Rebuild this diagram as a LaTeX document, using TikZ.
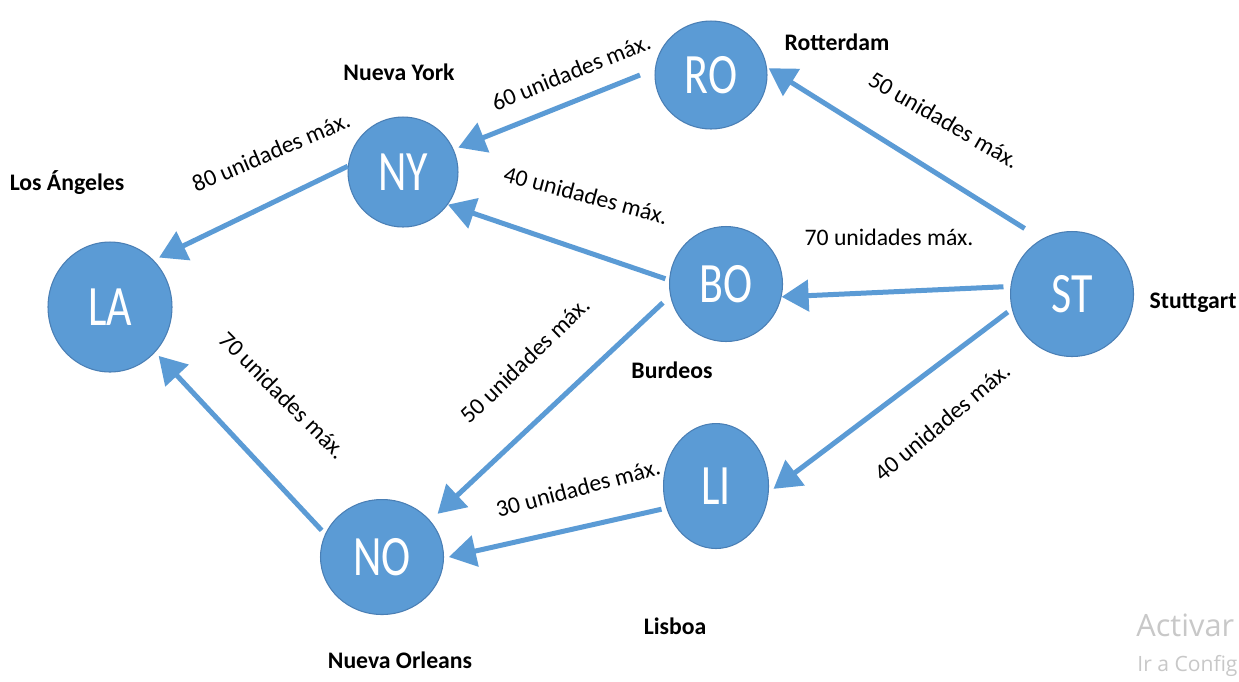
\documentclass[tikz,border=0pt]{standalone}
\usepackage{fontspec}
\usepackage{graphicx}
\setmainfont{Carlito}
\newfontfamily\wmfont{Open Sans}
\usetikzlibrary{arrows.meta,shapes.geometric}
\definecolor{nodeblue}{HTML}{5B9BD5}
\definecolor{nodeedge}{HTML}{4A7FB5}
\definecolor{wmgray}{HTML}{C8C8C8}
% node letters are set a little taller than wide
\newcommand\tallcode[1]{\scalebox{1}[1.3]{#1}}

\begin{document}
\begin{tikzpicture}[x=0.02cm,y=-0.02cm,
  city/.style={ellipse, fill=nodeblue, draw=nodeedge, line width=0.6pt,
    inner sep=0pt, text=white, font=\fontsize{25}{25}\selectfont},
  route/.style={draw=nodeblue, line width=0.1cm,
    -{Triangle[length=0.54cm,width=0.62cm]}},
  capnote/.style={font=\fontsize{13.5}{14}\selectfont, inner sep=0pt},
  place/.style={font=\bfseries\fontsize{13.5}{14}\selectfont, inner sep=0pt},
  wm/.style={text=wmgray, anchor=west, inner sep=0pt},
]
\clip (0,0) rectangle (1239,681);
\fill[white] (0,0) rectangle (1239,681);

% cities
\node[city, minimum width=2.48cm, minimum height=2.6cm] (la) at (110,307) {\tallcode{LA}};
\node[city, minimum width=2.2cm,  minimum height=2.2cm] (ny) at (403,172) {\tallcode{NY}};
\node[city, minimum width=2.24cm, minimum height=2.16cm] (ro) at (711,75) {\tallcode{RO}};
\node[city, minimum width=2.26cm, minimum height=2.3cm] (bo) at (726,284) {\tallcode{BO}};
\node[city, minimum width=2.46cm, minimum height=2.5cm] (st) at (1072,294) {\tallcode{ST}};
\node[city, minimum width=2.46cm, minimum height=2.3cm] (no) at (382,557) {\tallcode{NO}};
\node[city, minimum width=2.1cm,  minimum height=2.5cm] (li) at (716,486) {\tallcode{LI}};

% routes
\draw[route, shorten <=0.32cm, shorten >=0.1cm]  (ro.174) -- (ny.24);
\draw[route, shorten >=0.12cm]                   (ny.174) -- (la.47);
\draw[route, shorten <=0.08cm]                   (bo.176) -- (ny.-36);
\draw[route, shorten <=0.4cm, shorten >=0.04cm]  (st.119) -- (ro.8);
\draw[route, shorten <=0.14cm]                   (st.173) -- (bo.-13);
\draw[route, shorten <=0.2cm, shorten >=0.2cm]   (bo.192) -- (no.37);
\draw[route, shorten <=0.1cm, shorten >=0.12cm]  (st.194) -- (li.-7);
\draw[route, shorten <=0.1cm, shorten >=0.1cm]   (li.204) -- (no.-1);
\draw[route, shorten <=0.1cm, shorten >=0.1cm]   (no.158) -- (la.-45);

% capacities
\node[capnote, rotate=22]  (c1) at (571,72)  {60 unidades máx.};
\node[capnote, rotate=23]  (c2) at (271,152) {80 unidades máx.};
\node[capnote, rotate=-15] (c3) at (586,195) {40 unidades máx.};
\node[capnote, rotate=-30] (c4) at (944,120) {50 unidades máx.};
\node[capnote]             (c5) at (889,237) {70 unidades máx.};
\node[capnote, rotate=44]  (c6) at (525,360) {50 unidades máx.};
\node[capnote, rotate=40]  (c7) at (942,422) {40 unidades máx.};
\node[capnote, rotate=15]  (c8) at (578,488) {30 unidades máx.};
\node[capnote, rotate=-45] (c9) at (283,395) {70 unidades máx.};

% city names
\node[place] (nro) at (837,42)  {Rotterdam};
\node[place] (nny) at (399,72)  {Nueva York};
\node[place] (nla) at (67,183)  {Los Ángeles};
\node[place] (nbo) at (672,370) {Burdeos};
\node[place] (nst) at (1193,303) {Stuttgart};
\node[place] (nli) at (675,626) {Lisboa};
\node[place] (nno) at (400,660) {Nueva Orleans};

% activation notice in the corner
\node[wm, font=\wmfont\fontsize{17.5}{18}\selectfont] (wm1) at (1136,625) {Activar Windows};
\node[wm, font=\wmfont\fontsize{12}{13}\selectfont] (wm2) at (1137,666) {Ir a Configuración para activar Windows.};
\end{tikzpicture}
\end{document}
